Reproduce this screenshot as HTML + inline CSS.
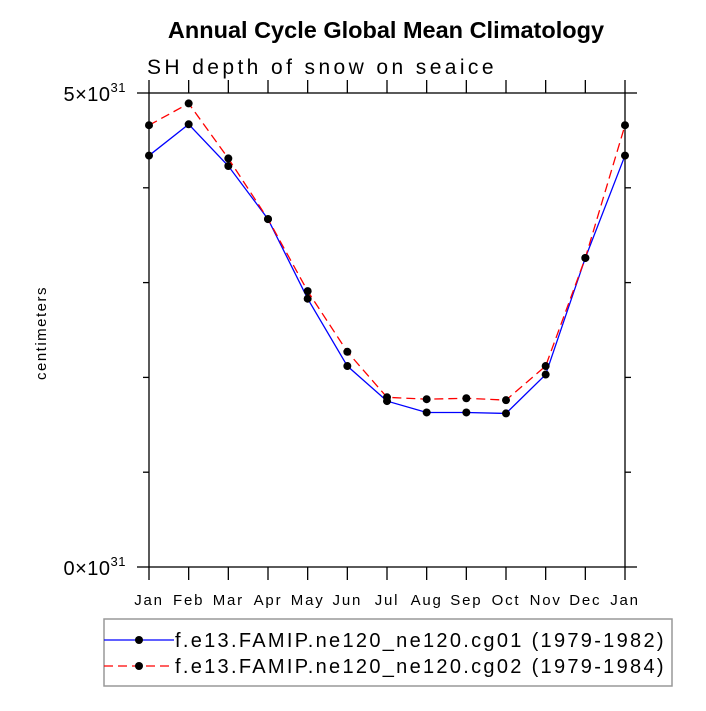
<!DOCTYPE html>
<html><head><meta charset="utf-8"><style>
body{margin:0;background:#fff;}
svg text{font-family:"Liberation Sans","DejaVu Sans",sans-serif;}
</style></head><body>
<svg id="chart" width="706" height="706" viewBox="0 0 706 706" xmlns="http://www.w3.org/2000/svg">
<rect width="706" height="706" fill="#fff"/>
<text x="386" y="38" font-size="23.5" font-weight="bold" text-anchor="middle">Annual Cycle Global Mean Climatology</text>
<text x="147" y="74" font-size="21" letter-spacing="3.4">SH depth of snow on seaice</text>
<text transform="translate(46,333) rotate(-90)" font-size="15" letter-spacing="1.5" text-anchor="middle">centimeters</text>
<g id="axes"></g>
<g id="series"></g>
<g>
<rect x="104" y="619" width="568" height="67" fill="none" stroke="#999" stroke-width="1.5"/>
<line x1="104" y1="640" x2="174" y2="640" stroke="#00f" stroke-width="1.3"/>
<circle cx="139" cy="640" r="4" fill="#000"/>
<text x="175" y="647" font-size="20" letter-spacing="2.3">f.e13.FAMIP.ne120_ne120.cg01 (1979-1982)</text>
<line x1="104" y1="666" x2="174" y2="666" stroke="#f00" stroke-width="1.3" stroke-dasharray="9,5"/>
<circle cx="139" cy="666" r="4" fill="#000"/>
<text x="175" y="673" font-size="20" letter-spacing="2.3">f.e13.FAMIP.ne120_ne120.cg02 (1979-1984)</text>
</g>
</svg>
<script>
const months=["Jan","Feb","Mar","Apr","May","Jun","Jul","Aug","Sep","Oct","Nov","Dec","Jan"];
const cg01=[4.34,4.67,4.23,3.67,2.83,2.12,1.75,1.63,1.63,1.62,2.03,3.26,4.34];
const cg02=[4.66,4.89,4.31,3.67,2.91,2.27,1.79,1.77,1.78,1.76,2.12,3.26,4.66];
const yTickLabels=["0","5"];
const NS="http://www.w3.org/2000/svg";
const L=149,R=625,T=93,B=567,YMAX=5;
function xs(i){return L+(R-L)*i/(months.length-1);}
function ys(v){return B-(B-T)*v/YMAX;}
function mk(tag,attrs,parent){const e=document.createElementNS(NS,tag);for(const k in attrs)e.setAttribute(k,attrs[k]);parent.appendChild(e);return e;}
const ax=document.getElementById('axes');
const st={stroke:"#000","stroke-width":1.3};
let e;
e=mk('rect',{x:L,y:T,width:R-L,height:B-T,fill:"none",stroke:"#000","stroke-width":1.3},ax);


months.forEach((m,i)=>{
  const x=xs(i);
  mk('line',Object.assign({x1:x,y1:B,x2:x,y2:B+13},st),ax);
  mk('line',Object.assign({x1:x,y1:T,x2:x,y2:T-13},st),ax);
  const t=mk('text',{x:x,y:B+38,"font-size":15,"letter-spacing":1.8,"text-anchor":"middle"},ax);
  t.textContent=m;
  
  
});
for(let v=0;v<=YMAX;v++){
  const y=ys(v);const major=(v===0||v===YMAX);const len=major?12:6;
  mk('line',Object.assign({x1:L-len,y1:y,x2:L,y2:y},st),ax);
  mk('line',Object.assign({x1:R,y1:y,x2:R+len,y2:y},st),ax);
}
yTickLabels.forEach(lbl=>{
  const y=ys(+lbl);
  const t=mk('text',{x:126,y:y+8,"font-size":20,"letter-spacing":0.5,"text-anchor":"end"},ax);
  t.textContent=lbl+"×10";
  const s=mk('tspan',{dy:-9,"font-size":13},t);s.textContent="31";
  
  
});
const sg=document.getElementById('series');
function draw(vals,color,dash,name){
  const pts=vals.map((v,i)=>xs(i)+","+ys(v)).join(" ");
  const p=mk('polyline',{points:pts,fill:"none",stroke:color,"stroke-width":1.3},sg);
  if(dash)p.setAttribute('stroke-dasharray',dash);
  
  
  vals.forEach((v,i)=>{
    const c=mk('circle',{cx:xs(i),cy:ys(v),r:4,fill:"#000"},sg);
    
    
  });
}
draw(cg01,"#00f",null,"cg01");
draw(cg02,"#f00","9,5","cg02");
</script>
</body></html>
